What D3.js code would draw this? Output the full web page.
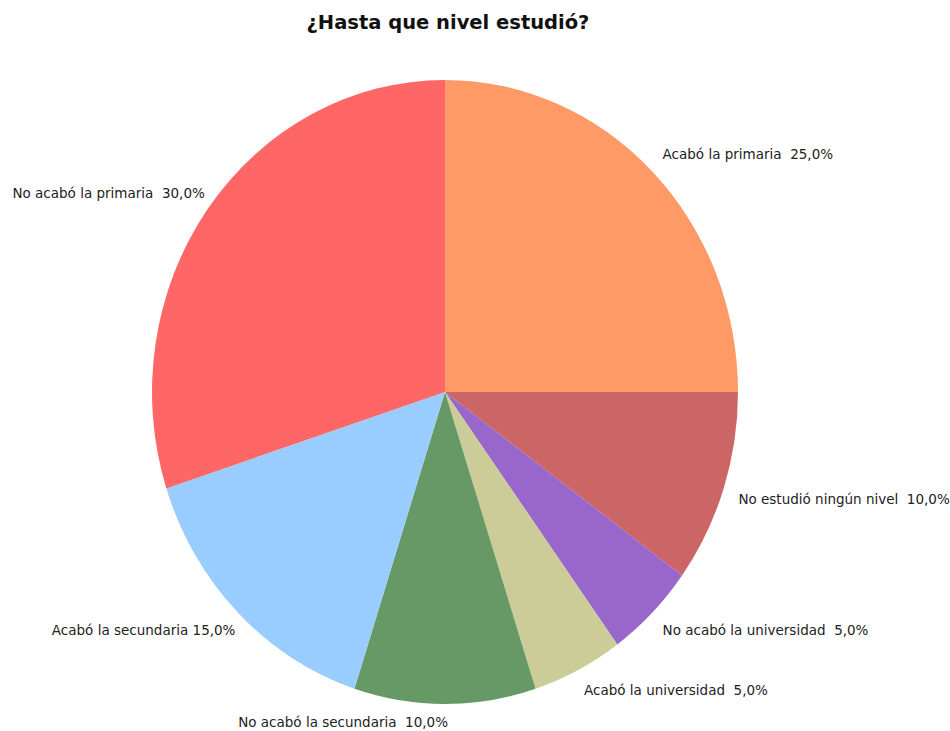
<!DOCTYPE html>
<html>
<head>
<meta charset="utf-8">
<script src="https://cdn.jsdelivr.net/npm/d3@7"></script>
<style>
  html, body { margin: 0; padding: 0; background: #fff; }
  svg { display: block; }
  text { white-space: pre; }
</style>
</head>
<body>
<svg id="chart" width="950" height="731"></svg>
<script>
// Education level survey: share of respondents per highest level reached
const categories = [
  "Acabó la primaria",
  "No estudió ningún nivel",
  "No acabó la universidad",
  "Acabó la universidad",
  "No acabó la secundaria",
  "Acabó la secundaria",
  "No acabó la primaria"
];
const values = [25, 10, 5, 5, 10, 15, 30];
const colors = ["#FF9966", "#CC6666", "#9966CC", "#CCCC99", "#669966", "#99CCFF", "#FF6666"];
const separators = ["  ", "  ", "  ", "  ", "  ", " ", "  "];

const title = "¿Hasta que nivel estudió?";

const svg = d3.select("#chart");
const cx = 445, cy = 392;
const rx = 293, ry = 312;

svg.append("text")
  .attr("x", 448)
  .attr("y", 29)
  .attr("text-anchor", "middle")
  .style("font-family", "'DejaVu Sans', sans-serif")
  .style("font-weight", "bold")
  .style("font-size", "19.5px")
  .style("fill", "#111")
  .text(title);

const total = d3.sum(values);
const pie = d3.pie().sort(null).value(d => d)(values);

// Unit-radius arcs, stretched into the slightly tall ellipse
const arc = d3.arc().innerRadius(0).outerRadius(1);

const g = svg.append("g")
  .attr("transform", `translate(${cx},${cy}) scale(${rx},${ry})`);

g.selectAll("path")
  .data(pie)
  .join("path")
  .attr("d", arc)
  .attr("fill", (d, i) => colors[i]);

const fmt = v => d3.format(".1f")(v).replace(".", ",") + "%";

// Labels sit just outside the rim at each slice's mid-angle
const k = 1.06;
svg.append("g").selectAll("text")
  .data(pie)
  .join("text")
  .each(function (d, i) {
    const a = (d.startAngle + d.endAngle) / 2;
    const s = Math.sin(a), c = Math.cos(a);
    const x = cx + rx * k * s;
    const y = cy - ry * k * c;
    const right = s > 1e-6;
    const yOff = 5 * Math.sign(-c) * Math.sqrt(Math.abs(s));
    d3.select(this)
      .attr("x", right ? x - 2 : x + 3 + 10 * Math.abs(s))
      .attr("y", y + yOff)
      .attr("dy", "0.35em")
      .attr("text-anchor", right ? "start" : "end");
  })
  .style("font-family", "'DejaVu Sans', sans-serif")
  .style("font-size", "13.5px")
  .style("fill", "#222")
  .text((d, i) => categories[i] + separators[i] + fmt(values[i] / total * 100));
</script>
</body>
</html>
